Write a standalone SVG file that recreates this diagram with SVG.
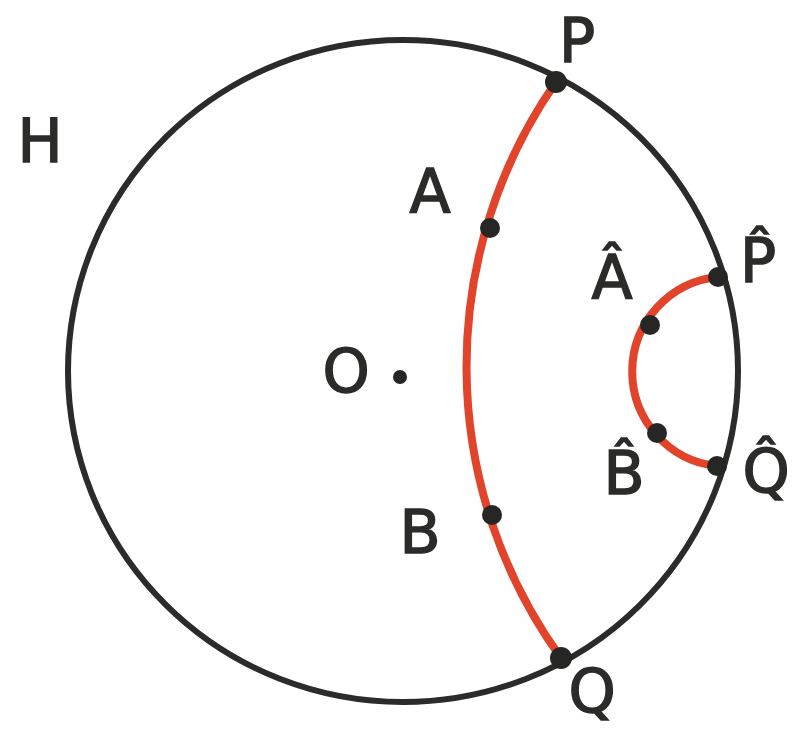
<svg xmlns="http://www.w3.org/2000/svg" width="797" height="729" viewBox="0 0 797 729">
<style>
.lbl{font-family:"DejaVu Sans","Liberation Sans",sans-serif;font-size:60px;fill:#2b2b29;stroke:#2b2b29;stroke-width:1.5;text-anchor:middle}
.dot{fill:#262624}
.red{fill:none;stroke:#e2432b;stroke-width:8;stroke-linecap:round}
</style>
<rect width="797" height="729" fill="#ffffff"/>
<g id="connectors">
<ellipse id="H-boundary" cx="403" cy="371" rx="335" ry="331" fill="none" stroke="#2b2b29" stroke-width="6"/>
<path id="arc-PQ" class="red" d="M556 82 A497 497 0 0 0 561 658"/>
<path id="arc-hatPQ" class="red" d="M718 277 A95 95 0 0 0 717 466"/>
</g>
<g id="node-P"><circle class="dot" cx="556" cy="82" r="11"/><text class="lbl" x="577" y="62">P</text></g>
<g id="node-Q"><circle class="dot" cx="561" cy="658" r="11"/><text class="lbl" x="592" y="712">Q</text></g>
<g id="node-A"><circle class="dot" cx="490" cy="228" r="10"/><text class="lbl" x="430" y="212">A</text></g>
<g id="node-B"><circle class="dot" cx="492" cy="515" r="10"/><text class="lbl" x="420" y="553">B</text></g>
<g id="node-hatP"><circle class="dot" cx="718" cy="277" r="10"/><text class="lbl" x="758" y="282">P̂</text></g>
<g id="node-hatQ"><circle class="dot" cx="717" cy="466" r="10"/><text class="lbl" x="766" y="492">Q̂</text></g>
<g id="node-hatA"><circle class="dot" cx="650" cy="325" r="10"/><text class="lbl" x="612" y="298">Â</text></g>
<g id="node-hatB"><circle class="dot" cx="657" cy="433" r="10"/><text class="lbl" x="624" y="494">B̂</text></g>
<g id="node-O"><circle class="dot" cx="400" cy="377" r="7"/><text class="lbl" x="346" y="392">O</text></g>
<g id="label-H"><text class="lbl" x="40" y="162">H</text></g>
</svg>
